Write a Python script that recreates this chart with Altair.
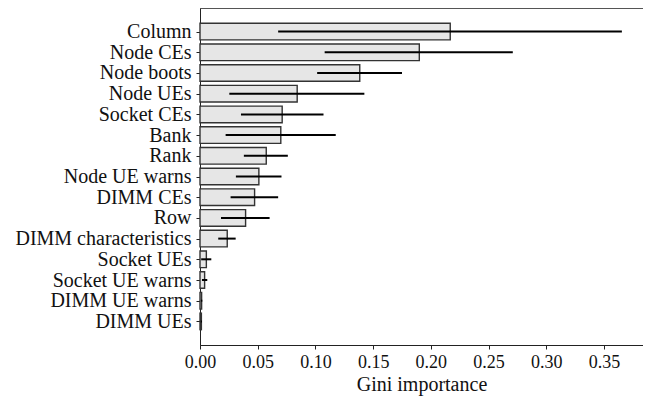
import altair as alt
import pandas as pd

features = ["Column", "Node CEs", "Node boots", "Node UEs", "Socket CEs", "Bank", "Rank",
            "Node UE warns", "DIMM CEs", "Row", "DIMM characteristics", "Socket UEs",
            "Socket UE warns", "DIMM UE warns", "DIMM UEs"]
importance = [0.2168, 0.190, 0.1384, 0.0842, 0.0712, 0.0700, 0.0574, 0.0510, 0.0473, 0.0395,
              0.0236, 0.0055, 0.0040, 0.0014, 0.0012]
err_low = [0.0677, 0.108, 0.1015, 0.0254, 0.0355, 0.0222, 0.0380, 0.0311, 0.0265, 0.0182,
           0.0158, 0.0010, 0.0017, 0.0008, 0.0007]
err_high = [0.3655, 0.271, 0.1750, 0.1424, 0.1070, 0.1176, 0.0761, 0.0706, 0.0677, 0.0603,
            0.0309, 0.0098, 0.0063, 0.0020, 0.0017]
x_ticks = [0.0, 0.05, 0.10, 0.15, 0.20, 0.25, 0.30, 0.35]

df = pd.DataFrame({
    "feature": features,
    "idx": list(range(len(features))),
    "imp": importance,
    "lo": err_low,
    "hi": err_high,
})
df["y0"] = df["idx"] - 0.4
df["y1"] = df["idx"] + 0.4
df["zero"] = 0.0

font = "'Liberation Serif', 'Times New Roman', 'DejaVu Serif', serif"
label_expr = "[" + ",".join("'" + f + "'" for f in features) + "][datum.value]"

yscale = alt.Scale(domain=[-1.14, 15.14], reverse=True, nice=False, zero=False)
xscale = alt.Scale(domain=[0, 0.3838], nice=False)

xaxis = alt.Axis(values=x_ticks, format=".2f", title="Gini importance",
                 grid=False, tickSize=4, labelPadding=4, titlePadding=3,
                 labelFontSize=18, titleFontSize=20, labelOverlap=False,
                 labelFlush=False, labelFont=font, titleFont=font,
                 labelColor="#111", titleColor="#111", domainColor="#222",
                 tickColor="#222", titleFontWeight="normal")
yaxis = alt.Axis(values=list(range(len(features))), labelExpr=label_expr,
                 title=None, grid=False, tickSize=4, labelPadding=5,
                 labelOverlap=False, labelFlush=False, labelFont=font,
                 labelFontSize=20, labelColor="#111",
                 domainColor="#222", tickColor="#222")

bars = alt.Chart(df).mark_bar(fill="#e6e6e6", stroke="#333333", strokeWidth=1.4).encode(
    x=alt.X("zero:Q", scale=xscale, axis=xaxis),
    x2="imp:Q",
    y=alt.Y("y0:Q", scale=yscale, axis=yaxis),
    y2="y1:Q",
)

errs = alt.Chart(df).mark_rule(color="black", strokeWidth=2).encode(
    x=alt.X("lo:Q", scale=xscale, axis=xaxis),
    x2="hi:Q",
    y=alt.Y("idx:Q", scale=yscale, axis=yaxis),
)

chart = alt.layer(bars, errs).properties(
    width=443, height=337,
    autosize=alt.AutoSizeParams(type="none"),
    padding={"left": 192, "top": 0, "right": 0, "bottom": 52},
    background="white",
).configure_view(stroke="#555", strokeWidth=1)

chart.save("out.html", embed_options={"renderer": "svg", "actions": False})
